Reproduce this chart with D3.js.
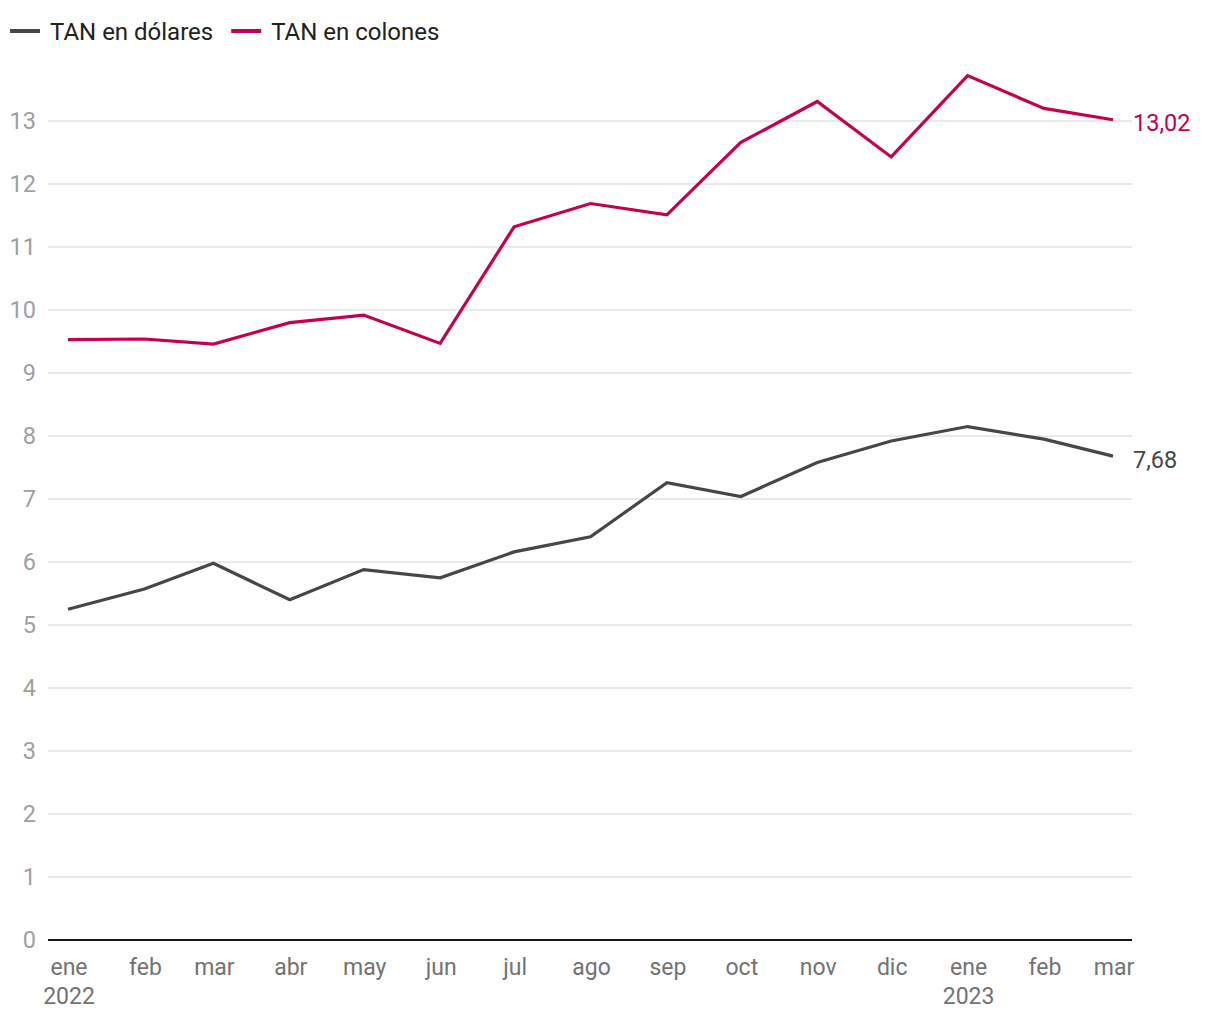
<!DOCTYPE html>
<html><head><meta charset="utf-8">
<script src="https://cdn.jsdelivr.net/npm/d3@7"></script>
<style>
body{margin:0;background:#fff;font-family:Roboto,"Noto Sans",sans-serif;}
</style></head>
<body><svg id="c" width="1220" height="1020"></svg>
<script>
const months = ["2022-01-01","2022-02-01","2022-03-01","2022-04-01","2022-05-01","2022-06-01","2022-07-01","2022-08-01","2022-09-01","2022-10-01","2022-11-01","2022-12-01","2023-01-01","2023-02-01","2023-03-01"];
const monthLabels = ["ene","feb","mar","abr","may","jun","jul","ago","sep","oct","nov","dic","ene","feb","mar"];
const yearLabels = {0:"2022",12:"2023"};
const dolares = [5.25,5.57,5.98,5.40,5.88,5.75,6.16,6.40,7.26,7.04,7.58,7.92,8.15,7.95,7.68];
const colones = [9.53,9.54,9.46,9.80,9.92,9.47,11.32,11.69,11.51,12.66,13.31,12.43,13.72,13.20,13.02];
const yTicks = [0,1,2,3,4,5,6,7,8,9,10,11,12,13];
const seriesNames = ["TAN en dólares","TAN en colones"];
const colors = ["#474747","#c5004f"];
const endLabels = ["7,68","13,02"];

const svg = d3.select("#c");
const parse = d3.utcParse("%Y-%m-%d");
const dates = months.map(parse);
const x = d3.scaleUtc().domain([dates[0], dates[dates.length-1]]).range([68,1113]);
const y = d3.scaleLinear().domain([0,13]).range([940,121]);
const gx0 = 48, gx1 = 1132;

// gridlines
svg.append("g").selectAll("line").data(yTicks.filter(d=>d>0)).join("line")
  .attr("x1",gx0).attr("x2",gx1).attr("y1",d=>y(d)).attr("y2",d=>y(d))
  .attr("stroke","#e2e2e2").attr("stroke-width",1.5);

// y labels
svg.append("g").selectAll("text").data(yTicks).join("text")
  .attr("x",36).attr("y",d=>y(d)).attr("dy","0.36em")
  .attr("text-anchor","end").attr("font-size",23.5).attr("fill","#a0a0a0")
  .text(d=>d);

// baseline
svg.append("line").attr("x1",gx0).attr("x2",gx1).attr("y1",y(0)).attr("y2",y(0))
  .attr("stroke","#1a1a1a").attr("stroke-width",2);

// x labels
const xl = svg.append("g");
xl.selectAll("text.m").data(dates).join("text").attr("class","m")
  .attr("x",d=>x(d)+1).attr("y",975).attr("text-anchor","middle")
  .attr("font-size",23).attr("fill","#737373").text((d,i)=>monthLabels[i]);
xl.selectAll("text.yr").data(Object.keys(yearLabels)).join("text").attr("class","yr")
  .attr("x",k=>x(dates[+k])+1).attr("y",1004).attr("text-anchor","middle")
  .attr("font-size",23).attr("fill","#737373").text(k=>yearLabels[k]);

// lines
const line = d3.line().x((d,i)=>x(dates[i])).y(d=>y(d));
[dolares, colones].forEach((s,k)=>{
  svg.append("path").datum(s).attr("d",line).attr("fill","none")
    .attr("stroke",colors[k]).attr("stroke-width",3.2).attr("stroke-linejoin","miter");
  svg.append("text").attr("x",x(dates[dates.length-1])+20).attr("y",y(s[s.length-1])).attr("dy","0.5em")
    .attr("font-size",23.5).attr("fill",colors[k]).text(endLabels[k]);
});

// legend
const lg = svg.append("g");
let lx = 10;
seriesNames.forEach((n,k)=>{
  lg.append("line").attr("x1",lx).attr("x2",lx+30).attr("y1",31).attr("y2",31)
    .attr("stroke",colors[k]).attr("stroke-width",4);
  const t = lg.append("text").attr("x",lx+40).attr("y",31).attr("dy","0.36em")
    .attr("font-size",24).attr("fill","#222").text(n);
  lx += 40 + t.node().getComputedTextLength() + 18;
});
</script></body></html>
